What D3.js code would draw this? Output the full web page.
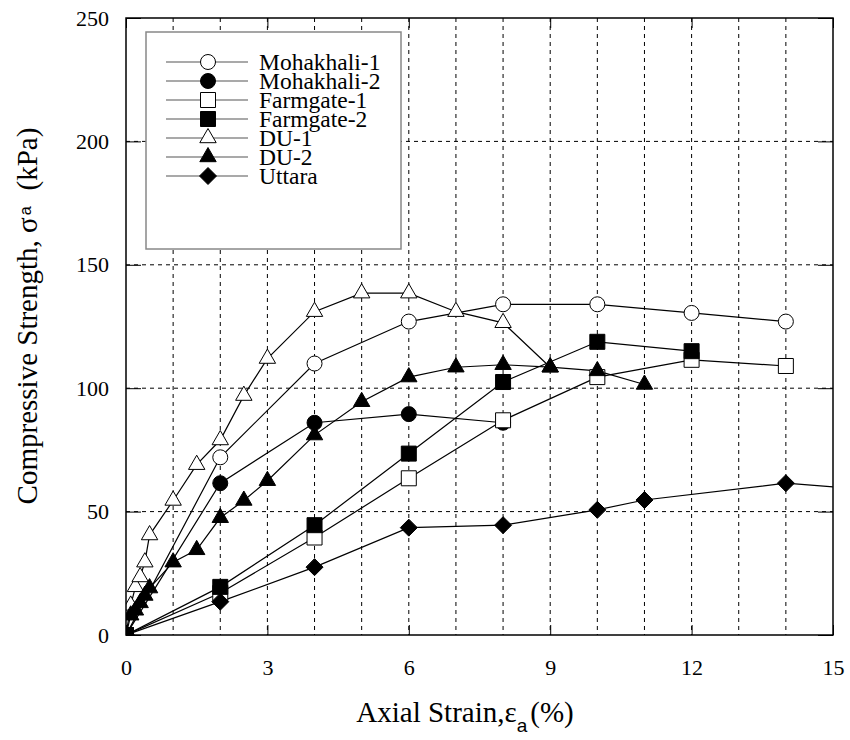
<!DOCTYPE html>
<html>
<head>
<meta charset="utf-8">
<script src="https://cdn.jsdelivr.net/npm/d3@7"></script>
<style>
  body { margin: 0; background: #fff; }
</style>
</head>
<body>
<div id="chart"></div>
<script>
// values (strain in %, strength in kPa)
const seriesNames = ['Mohakhali-1', 'Mohakhali-2', 'Farmgate-1', 'Farmgate-2', 'DU-1', 'DU-2', 'Uttara'];

const mohakhali1X = [0, 2, 4, 6, 8, 10, 12, 14];
const mohakhali1Y = [0, 72, 110, 127, 134, 134, 130.5, 127];

const mohakhali2X = [0, 2, 4, 6, 8];
const mohakhali2Y = [0, 61.5, 86, 89.5, 86];

const farmgate1X = [0, 2, 4, 6, 8, 10, 12, 14];
const farmgate1Y = [0, 17, 39.5, 63.5, 87, 104.5, 111.5, 109];

const farmgate2X = [0, 2, 4, 6, 8, 10, 12];
const farmgate2Y = [0, 19.5, 44.5, 73.5, 102.5, 118.8, 115];

const du1X = [0, 0.1, 0.2, 0.3, 0.4, 0.5, 1, 1.5, 2, 2.5, 3, 4, 5, 6, 7, 8, 9];
const du1Y = [0, 12, 19.5, 23.5, 29.5, 40.5, 54.5, 69, 79, 97, 112, 131, 138.5, 138.5, 131, 126.5, 108.5];

const du2X = [0, 0.1, 0.2, 0.3, 0.4, 0.5, 1, 1.5, 2, 2.5, 3, 4, 5, 6, 7, 8, 9, 10, 11];
const du2Y = [0, 8, 10, 13, 16, 19, 29.5, 34.5, 47.5, 54.5, 62.5, 81, 94.5, 104.5, 108.5, 109.5, 108.5, 107, 101.5];

const uttaraX = [0, 2, 4, 6, 8, 10, 11, 14, 16];
const uttaraY = [0, 13.5, 27.5, 43.5, 44.5, 50.7, 54.7, 61.5, 58.5];

const xTickLabels = [0, 3, 6, 9, 12, 15];
const yTickLabels = [0, 50, 100, 150, 200, 250];

const allX = [mohakhali1X, mohakhali2X, farmgate1X, farmgate2X, du1X, du2X, uttaraX];
const allY = [mohakhali1Y, mohakhali2Y, farmgate1Y, farmgate2Y, du1Y, du2Y, uttaraY];

// marker style per series
const markerShape = ['circle', 'circle', 'square', 'square', 'triangle', 'triangle', 'diamond'];
const markerFilled = [false, true, false, true, false, true, true];

const series = seriesNames.map((name, i) => ({
	name,
	shape: markerShape[i],
	filled: markerFilled[i],
	points: allX[i].map((x, j) => ({ x, y: allY[i][j] })),
}));

const SERIF = 'Liberation Serif';
const SANS = 'Liberation Sans';

const width = 850;
const height = 740;
const margin = { top: 18, right: 17, bottom: 105, left: 126 };
const plotW = width - margin.left - margin.right;
const plotH = height - margin.top - margin.bottom;

const x = d3.scaleLinear().domain([0, 15]).range([0, plotW]);
const y = d3.scaleLinear().domain([0, 250]).range([plotH, 0]);

const svg = d3.select('#chart').append('svg').attr('width', width).attr('height', height);

svg.append('defs')
	.append('clipPath')
	.attr('id', 'plot-clip')
	.append('rect')
	.attr('width', plotW)
	.attr('height', plotH);

const g = svg.append('g').attr('transform', `translate(${margin.left},${margin.top})`);

// dashed grid
const gridX = d3.range(1, 15);
const gridY = [50, 100, 150, 200];

g.append('g')
	.selectAll('line')
	.data(gridX)
	.join('line')
	.attr('x1', (d) => x(d))
	.attr('x2', (d) => x(d))
	.attr('y1', 0)
	.attr('y2', plotH)
	.attr('stroke', '#000')
	.attr('stroke-width', 1)
	.attr('stroke-dasharray', '4,4');

g.append('g')
	.selectAll('line')
	.data(gridY)
	.join('line')
	.attr('x1', 0)
	.attr('x2', plotW)
	.attr('y1', (d) => y(d))
	.attr('y2', (d) => y(d))
	.attr('stroke', '#000')
	.attr('stroke-width', 1)
	.attr('stroke-dasharray', '4,4');

// axes: inward ticks, labels outside
const xAxis = d3.axisBottom(x).tickValues(xTickLabels).tickSizeInner(-10).tickSizeOuter(0).tickPadding(24);
const yAxis = d3.axisLeft(y).tickValues(yTickLabels).tickSizeInner(-15).tickSizeOuter(0).tickPadding(30);

g.append('g')
	.attr('transform', `translate(0,${plotH})`)
	.call(xAxis)
	.attr('font-family', SERIF)
	.attr('font-size', 22)
	.call((a) => a.select('.domain').remove())
	.call((a) => a.selectAll('text').attr('fill', '#000'));

g.append('g')
	.call(yAxis)
	.attr('font-family', SERIF)
	.attr('font-size', 22)
	.call((a) => a.select('.domain').remove())
	.call((a) => a.selectAll('text').attr('fill', '#000').attr('dx', 13));

// mirrored ticks on top and right
g.append('g').call(d3.axisTop(x).tickValues(xTickLabels).tickSizeInner(-10).tickSizeOuter(0).tickFormat(''))
	.call((a) => a.select('.domain').remove());
g.append('g').attr('transform', `translate(${plotW},0)`)
	.call(d3.axisRight(y).tickValues(yTickLabels).tickSizeInner(-15).tickSizeOuter(0).tickFormat(''))
	.call((a) => a.select('.domain').remove());

// symbol paths, sized like the original markers
const markerPaths = {
	circle: d3.arc()({ innerRadius: 0, outerRadius: 7.5, startAngle: 0, endAngle: 2 * Math.PI }),
	square: 'M-7.5,-7.5H7.5V7.5H-7.5Z',
	triangle: 'M0,-9.5L8.2,4.7H-8.2Z',
	diamond: 'M0,-8.5L8.5,0L0,8.5L-8.5,0Z',
};

function drawMarker(sel, shape, filled) {
	sel.append('path')
		.attr('d', markerPaths[shape])
		.attr('fill', filled ? '#000' : '#fff')
		.attr('stroke', '#000')
		.attr('stroke-width', 1);
}

const line = d3.line().x((d) => x(d.x)).y((d) => y(d.y));

const plot = g.append('g').attr('clip-path', 'url(#plot-clip)');

series.forEach((s) => {
	plot.append('path')
		.datum(s.points)
		.attr('d', line)
		.attr('fill', 'none')
		.attr('stroke', '#000')
		.attr('stroke-width', 1.2);
});

series.forEach((s) => {
	plot.append('g')
		.selectAll('g')
		.data(s.points)
		.join('g')
		.attr('transform', (d) => `translate(${x(d.x)},${y(d.y)})`)
		.each(function () {
			drawMarker(d3.select(this), s.shape, s.filled);
		});
});

// frame
g.append('rect')
	.attr('width', plotW)
	.attr('height', plotH)
	.attr('fill', 'none')
	.attr('stroke', '#000')
	.attr('stroke-width', 1.5);

// legend
const legend = svg.append('g').attr('transform', 'translate(146,32)');
legend.append('rect')
	.attr('width', 255)
	.attr('height', 217)
	.attr('fill', '#fff')
	.attr('stroke', '#888')
	.attr('stroke-width', 1.5);

series.forEach((s, i) => {
	const row = legend.append('g').attr('transform', `translate(0,${30 + i * 19})`);
	row.append('line').attr('x1', 20).attr('x2', 102).attr('stroke', '#555').attr('stroke-width', 1.2);
	const m = row.append('g').attr('transform', 'translate(62,0)');
	drawMarker(m, s.shape, s.filled);
	row.append('text')
		.attr('x', 113)
		.attr('y', 8)
		.attr('font-family', SERIF)
		.attr('font-size', 23.5)
		.attr('fill', '#000')
		.text(s.name);
});

// axis titles
const xt = svg.append('text')
	.attr('x', 465)
	.attr('y', 722)
	.attr('text-anchor', 'middle')
	.attr('font-family', SERIF)
	.attr('font-size', 29)
	.attr('fill', '#000');
xt.append('tspan').text('Axial Strain,\u03b5');
xt.append('tspan').attr('font-family', SANS).attr('font-size', 19).attr('dy', 10).text('a');
xt.append('tspan').attr('dy', -10).attr('dx', 3).text('(%)');

const yt = svg.append('text')
	.attr('transform', 'translate(37,316) rotate(-90)')
	.attr('text-anchor', 'middle')
	.attr('font-family', SERIF)
	.attr('font-size', 29)
	.attr('fill', '#000');
yt.append('tspan').text('Compressive Strength, \u03c3');
yt.append('tspan').attr('font-family', SANS).attr('font-size', 16).attr('dy', -6).attr('dx', 2).text('a');
yt.append('tspan').attr('dy', 6).attr('dx', 16).text('(kPa)');
</script>
</body>
</html>
